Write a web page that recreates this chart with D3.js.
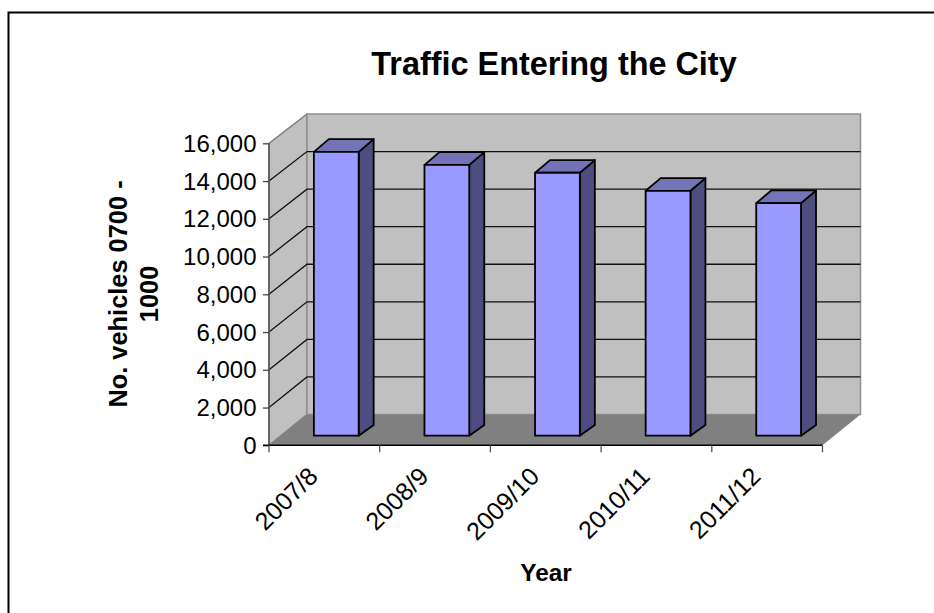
<!DOCTYPE html>
<html>
<head>
<meta charset="utf-8">
<script src="https://cdn.jsdelivr.net/npm/d3@7"></script>
<style>
  html, body { margin: 0; padding: 0; background: #fff; overflow: hidden; }
  svg { display: block; }
  text { font-family: "Liberation Sans", Arial, sans-serif; fill: #000; }
</style>
</head>
<body>
<svg id="chart" width="934" height="613"></svg>
<script>
const years = ["2007/8", "2008/9", "2009/10", "2010/11", "2011/12"];
const vehicles = [15040, 14350, 13930, 12975, 12320];
const yTicks = [0, 2000, 4000, 6000, 8000, 10000, 12000, 14000, 16000];

const svg = d3.select("#chart");
const fmt = d3.format(",");

// front plane of the box, and the back wall which sits a bit smaller behind it
const band = d3.scaleBand().domain(years).range([269, 822.5]);
const x = d3.scaleBand().domain(years).range([269, 822.5]).paddingInner(0.595).paddingOuter(0.3);
const y = d3.scaleLinear().domain([0, 16000]).range([445.3, 143.3]);
const yBack = d3.scaleLinear().domain([0, 16000]).range([414.5, 114]);

const x0 = 269, x1 = 822.5, dx = 38;
const yB = y(0), yT = y(16000);

const barShift = { x: 11.7, y: -9.6 };
const barDepth = { x: 15, top: -12.7, bottom: -10.7 };

const poly = pts => pts.map(p => p.join(",")).join(" ");

// chart frame runs off the page on the right and the bottom
svg.append("path").attr("d", "M8.5,640V12.5H940")
  .attr("fill", "none").attr("stroke", "#000").attr("stroke-width", 2);

// side wall, back wall, floor
svg.append("polygon")
  .attr("points", poly([[x0, yB], [x0 + dx, yBack(0)], [x0 + dx, yBack(16000)], [x0, yT]]))
  .attr("fill", "#c0c0c0").attr("stroke", "#808080").attr("stroke-width", 1.5);
svg.append("rect")
  .attr("x", x0 + dx).attr("y", yBack(16000))
  .attr("width", x1 - x0).attr("height", yBack(0) - yBack(16000))
  .attr("fill", "#c0c0c0").attr("stroke", "#909090").attr("stroke-width", 1.5);
svg.append("polygon")
  .attr("points", poly([[x0, yB], [x0 + dx, yBack(0)], [x1 + dx, yBack(0)], [x1, yB]]))
  .attr("fill", "#808080");

// gridlines on both walls
svg.selectAll("polyline.grid").data(yTicks.slice(1, -1)).join("polyline").attr("class", "grid")
  .attr("points", d => poly([[x0, y(d)], [x0 + dx, yBack(d)], [x1 + dx, yBack(d)]]))
  .attr("fill", "none").attr("stroke", "#111").attr("stroke-width", 1.3);

// bars
const w = x.bandwidth();
const barX = d => x(d) + barShift.x;
const barTop = (d, i) => y(vehicles[i]) + barShift.y;
const barBottom = y(0) + barShift.y;
const bars = svg.selectAll("g.bar").data(years).join("g").attr("class", "bar");
bars.append("polygon")
  .attr("points", (d, i) => poly([
    [barX(d) + w, barTop(d, i)], [barX(d) + w + barDepth.x, barTop(d, i) + barDepth.top],
    [barX(d) + w + barDepth.x, barBottom + barDepth.bottom], [barX(d) + w, barBottom]]))
  .attr("fill", "#4d4d80");
bars.append("polygon")
  .attr("points", (d, i) => poly([
    [barX(d), barTop(d, i)], [barX(d) + barDepth.x, barTop(d, i) + barDepth.top],
    [barX(d) + w + barDepth.x, barTop(d, i) + barDepth.top], [barX(d) + w, barTop(d, i)]]))
  .attr("fill", "#7373b8");
bars.append("rect")
  .attr("x", barX).attr("y", barTop)
  .attr("width", w).attr("height", (d, i) => barBottom - barTop(d, i))
  .attr("fill", "#9999ff");
bars.selectAll("polygon, rect").attr("stroke", "#000").attr("stroke-width", 1.8).attr("stroke-linejoin", "round");

// axes
const yAxis = d3.axisLeft(y).tickValues(yTicks).tickFormat(fmt).tickSize(6).tickPadding(6.5);
const gy = svg.append("g").attr("transform", `translate(${x0},0)`).call(yAxis);
gy.selectAll("text").style("font-size", "24px").attr("dy", "0.34em");
gy.select(".domain").attr("stroke", "#555").attr("stroke-width", 1.5).attr("d", `M0,${yT}V${yB}`);
gy.selectAll(".tick line").attr("stroke", "#444").attr("stroke-width", 1.3);

svg.append("line").attr("x1", x0 - 6).attr("x2", x1).attr("y1", yB).attr("y2", yB)
  .attr("stroke", "#000").attr("stroke-width", 1.6);
svg.selectAll("line.xtick").data(years.concat("end")).join("line").attr("class", "xtick")
  .attr("x1", d => d === "end" ? x1 : band(d)).attr("x2", d => d === "end" ? x1 : band(d))
  .attr("y1", yB).attr("y2", yB + 7).attr("stroke", "#555").attr("stroke-width", 1.3);

svg.selectAll("text.xlab").data(years).join("text").attr("class", "xlab")
  .attr("transform", d => `translate(${band(d) + band.bandwidth() / 2 - 5},${yB + 32.5}) rotate(-45)`)
  .attr("text-anchor", "end").attr("font-size", 25).text(d => d);

// titles
svg.append("text").attr("x", 554).attr("y", 75).attr("text-anchor", "middle")
  .attr("font-size", 32.4).attr("font-weight", "bold").text("Traffic Entering the City");
svg.append("text").attr("x", 546).attr("y", 581).attr("text-anchor", "middle")
  .attr("font-size", 24.4).attr("font-weight", "bold").text("Year");
const ylab = svg.append("text").attr("transform", "translate(135,294) rotate(-90)")
  .attr("text-anchor", "middle").attr("font-size", 25.4).attr("font-weight", "bold");
ylab.append("tspan").attr("x", 0).attr("y", -8).text("No. vehicles 0700 -");
ylab.append("tspan").attr("x", 0).attr("y", 23).text("1000");
</script>
</body>
</html>
